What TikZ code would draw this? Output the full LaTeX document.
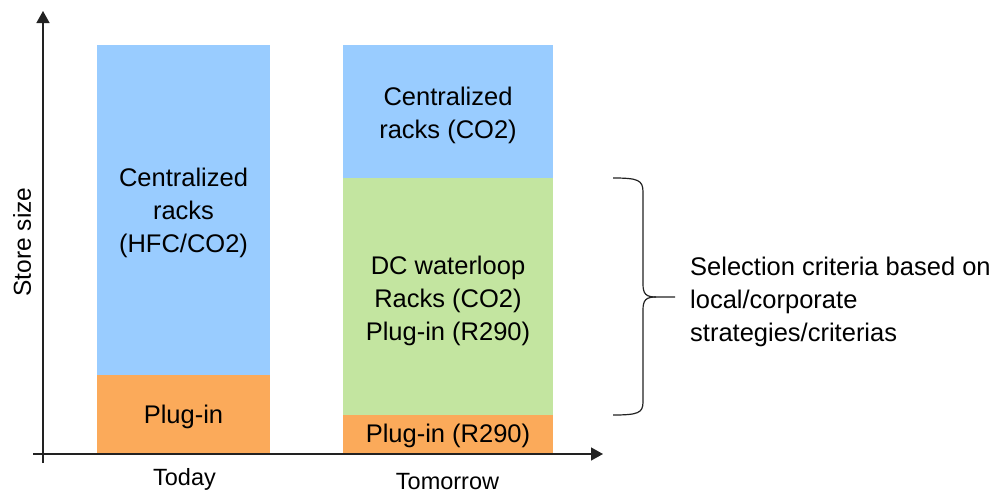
\documentclass[tikz,border=0pt]{standalone}
\usepackage{fontspec}
\setmainfont{Liberation Sans}
\usetikzlibrary{arrows.meta}
\definecolor{barblue}{HTML}{99CCFF}
\definecolor{bargreen}{HTML}{C3E5A0}
\definecolor{barorange}{HTML}{FBAA5A}
\definecolor{axisgray}{HTML}{222222}
\tikzset{
  bar/.style={draw=none},
  bartext/.style={font=\fontsize{25.5}{33}\selectfont, align=center, inner sep=0pt, text=black},
  axistext/.style={font=\fontsize{23.5}{28}\selectfont, inner sep=0pt, text=black},
  axisline/.style={draw=axisgray, line width=1.5pt, -{Triangle[length=12pt,width=13pt]}},
  bracestyle/.style={draw=axisgray, line width=1.2pt}
}
\begin{document}
\begin{tikzpicture}[x=1pt,y=-1pt]
\useasboundingbox (0,0) rectangle (1005,493);
% bars: Today
\fill[bar, barblue] (97,45) rectangle (270,375);
\fill[bar, barorange] (97,375) rectangle (270,454);
% bars: Tomorrow
\fill[bar, barblue] (343,45) rectangle (553,178);
\fill[bar, bargreen] (343,178) rectangle (553,415);
\fill[bar, barorange] (343,415) rectangle (553,454);
% axes
\coordinate (yb) at (43,463);
\coordinate (yt) at (43,11);
\coordinate (xl) at (33,454);
\coordinate (xr) at (603,454);
\draw[axisline] (yb) -- (yt);
\draw[axisline] (xl) -- (xr);
% labels
\node[bartext] (todaytop) at (183.5,213) {Centralized\\racks\\(HFC/CO2)};
\node[bartext] (todayplug) at (183.5,417) {Plug-in};
\node[bartext] (tomtop) at (448,115) {Centralized\\racks (CO2)};
\node[bartext] (tomgreen) at (448,301) {DC waterloop\\Racks (CO2)\\Plug-in (R290)};
\node[bartext] (tomplug) at (448,436) {Plug-in (R290)};
\node[axistext] (today) at (184.5,479) {Today};
\node[axistext] (tomorrow) at (447.5,482) {Tomorrow};
\node[axistext, font=\fontsize{24.5}{28}\selectfont, rotate=90] (ylabel) at (22,242) {Store size};
% brace
\coordinate (bt) at (613,178);
\coordinate (bb) at (613,415);
\coordinate (bm) at (675,297);
\draw[bracestyle] (bt) .. controls (638,178) and (643,180) .. (643,192)
  -- (643,284) .. controls (643,294) and (646,297) .. (656,297) -- (bm);
\draw[bracestyle] (656,297) .. controls (646,297) and (643,300) .. (643,310)
  -- (643,402) .. controls (643,413) and (638,415) .. (bb);
\node[bartext, anchor=west, align=left] (sel) at (690,302) {Selection criteria based on\\local/corporate\\strategies/criterias};
\end{tikzpicture}
\end{document}
